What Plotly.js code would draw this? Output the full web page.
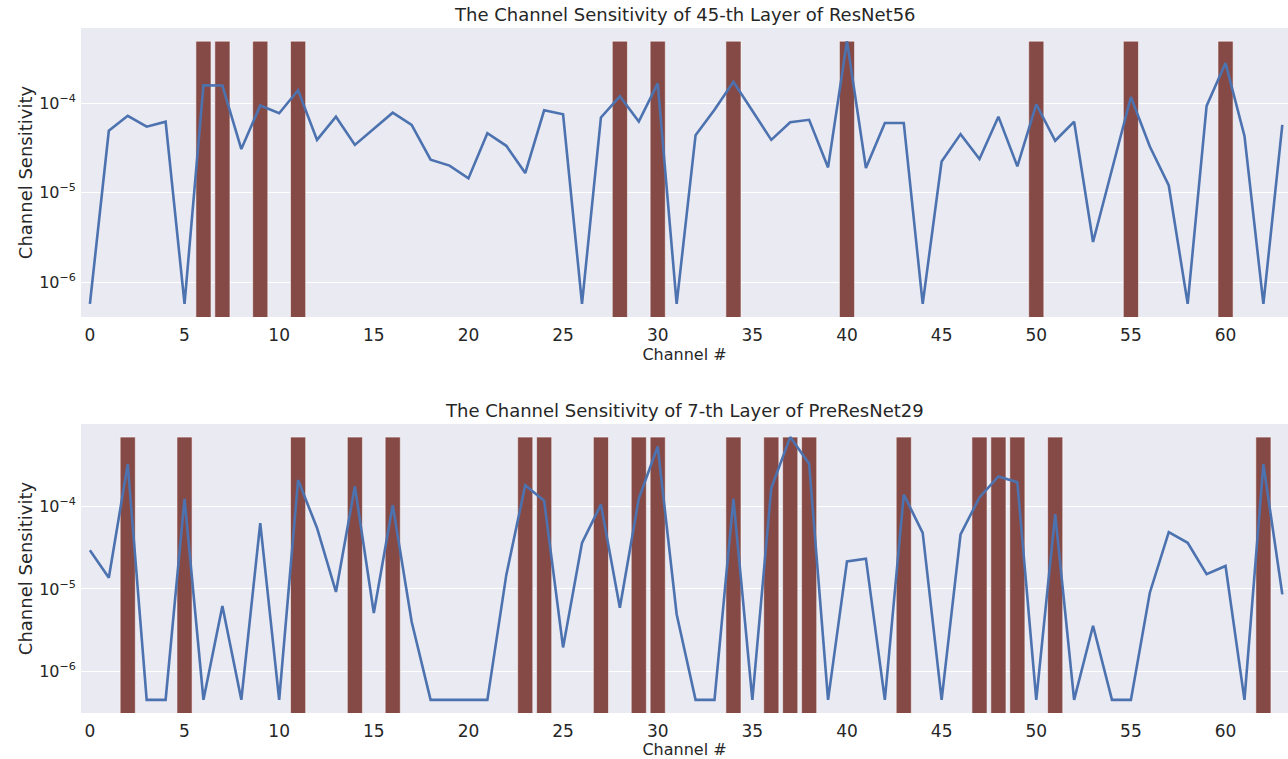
<!DOCTYPE html>
<html>
<head>
<meta charset="utf-8">
<script src="https://cdn.plot.ly/plotly-3.0.1.min.js"></script>
<style>
html,body{margin:0;padding:0;background:#fff;}
#chart{width:1288px;height:759px;}
</style>
</head>
<body>
<div id="chart"></div>
<script>
// Channel indices
const channels = Array.from({length: 64}, (_, i) => i);

// Sensitivity per channel, 45-th layer of ResNet56
const sensResNet56 = [
  5.7e-7, 4.9e-5, 7.2e-5, 5.45e-5, 6.2e-5, 5.7e-7, 1.58e-4, 1.57e-4, 3.06e-5, 9.4e-5,
  7.7e-5, 1.39e-4, 3.88e-5, 7.05e-5, 3.41e-5, 5.1e-5, 7.8e-5, 5.7e-5, 2.33e-5, 2.0e-5,
  1.44e-5, 4.6e-5, 3.33e-5, 1.65e-5, 8.3e-5, 7.5e-5, 5.7e-7, 6.9e-5, 1.19e-4, 6.2e-5,
  1.66e-4, 5.7e-7, 4.38e-5, 8.4e-5, 1.73e-4, 8.2e-5, 3.88e-5, 6.1e-5, 6.5e-5, 1.91e-5,
  4.92e-4, 1.88e-5, 6.0e-5, 6.0e-5, 5.7e-7, 2.23e-5, 4.5e-5, 2.37e-5, 7.05e-5, 1.96e-5,
  9.7e-5, 3.79e-5, 6.2e-5, 2.8e-6, 1.82e-5, 1.17e-4, 3.27e-5, 1.2e-5, 5.7e-7, 9.3e-5,
  2.8e-4, 4.3e-5, 5.7e-7, 5.7e-5
];
// Highlighted channels, ResNet56
const selResNet56 = [6, 7, 9, 11, 28, 30, 34, 40, 50, 55, 60];

// Sensitivity per channel, 7-th layer of PreResNet29
const sensPreResNet29 = [
  2.94e-5, 1.37e-5, 3.27e-4, 4.5e-7, 4.5e-7, 1.24e-4, 4.5e-7, 6.2e-6, 4.5e-7, 6.3e-5,
  4.5e-7, 2.1e-4, 5.5e-5, 9.2e-6, 1.76e-4, 5.1e-6, 1.04e-4, 4.0e-6, 4.5e-7, 4.5e-7,
  4.5e-7, 4.5e-7, 1.48e-5, 1.81e-4, 1.18e-4, 1.95e-6, 3.63e-5, 1.06e-4, 5.9e-6, 1.25e-4,
  5.36e-4, 4.94e-6, 4.5e-7, 4.5e-7, 1.24e-4, 4.5e-7, 1.68e-4, 6.97e-4, 3.31e-4, 4.5e-7,
  2.16e-5, 2.33e-5, 4.5e-7, 1.4e-4, 4.8e-5, 4.5e-7, 4.6e-5, 1.29e-4, 2.32e-4, 1.98e-4,
  4.5e-7, 8.1e-5, 4.5e-7, 3.57e-6, 4.5e-7, 4.5e-7, 9.0e-6, 4.9e-5, 3.63e-5, 1.51e-5,
  1.9e-5, 4.5e-7, 3.27e-4, 8.6e-6
];
// Highlighted channels, PreResNet29
const selPreResNet29 = [2, 5, 11, 14, 16, 23, 24, 27, 29, 30, 34, 36, 37, 38, 43, 47, 48, 49, 51, 62];

const titles = [
  "The Channel Sensitivity of 45-th Layer of ResNet56",
  "The Channel Sensitivity of 7-th Layer of PreResNet29"
];
const xTickVals = [0, 5, 10, 15, 20, 25, 30, 35, 40, 45, 50, 55, 60];
const yTickVals = [1e-6, 1e-5, 1e-4];
const yTickText = ["10<sup>−6</sup>", "10<sup>−5</sup>", "10<sup>−4</sup>"];

const lineColor = "#4C72B0";
const barColor = "#864A46";
const font = "DejaVu Sans, sans-serif";
const txt = "#262626";

function logRange(vals){
  const lo = Math.log10(Math.min(...vals)), hi = Math.log10(Math.max(...vals));
  const m = (hi - lo) * 0.05;
  return [lo - m, hi + m];
}

function panel(vals, sel, xa, ya){
  const h = Math.max(...vals);
  return [
    {type: "bar", x: sel, y: sel.map(() => h), base: sel.map(() => 1e-9), width: 0.8,
     marker: {color: barColor, line: {color: "rgba(255,255,255,0.55)", width: 1}},
     xaxis: xa, yaxis: ya, hoverinfo: "skip", showlegend: false},
    {type: "scatter", mode: "lines", x: channels, y: vals,
     line: {color: lineColor, width: 2.6}, xaxis: xa, yaxis: ya, showlegend: false}
  ];
}

const data = [
  ...panel(sensResNet56, selResNet56, "x", "y"),
  ...panel(sensPreResNet29, selPreResNet29, "x2", "y2")
];

function xax(anchor){
  return {
    anchor: anchor, domain: [0, 1], range: [-0.47, 63.3],
    tickvals: xTickVals, ticks: "", showgrid: false, zeroline: false, showline: false,
    ticklabelstandoff: 6,
    tickfont: {family: font, size: 17, color: txt},
    title: {text: "Channel #", font: {family: font, size: 16, color: txt}, standoff: 3}
  };
}
function yax(anchor, dom, vals){
  return {
    anchor: anchor, domain: dom, type: "log", range: logRange(vals),
    tickvals: yTickVals, ticktext: yTickText, ticks: "",
    ticklabelstandoff: 4,
    showgrid: true, gridcolor: "#FFFFFF", gridwidth: 1, zeroline: false, showline: false,
    tickfont: {family: font, size: 16, color: txt},
    title: {text: "Channel Sensitivity", font: {family: font, size: 18, color: txt}, standoff: 1}
  };
}

const layout = {
  width: 1288, height: 759,
  margin: {l: 81, r: 0, t: 0, b: 0},
  paper_bgcolor: "#FFFFFF", plot_bgcolor: "#EAEAF2",
  font: {family: font, color: txt},
  bargap: 0,
  xaxis: xax("y"),
  yaxis: yax("x", [0.5823, 0.9631], sensResNet56),
  xaxis2: xax("y2"),
  yaxis2: yax("x2", [0.0606, 0.4414], sensPreResNet29),
  annotations: [
    {text: titles[0], xref: "paper", yref: "paper", x: 0.5, y: 0.9631, yanchor: "bottom",
     yshift: 1, showarrow: false, font: {family: font, size: 18, color: txt}},
    {text: titles[1], xref: "paper", yref: "paper", x: 0.5, y: 0.4414, yanchor: "bottom",
     yshift: 1, showarrow: false, font: {family: font, size: 18, color: txt}}
  ]
};

Plotly.newPlot("chart", data, layout, {staticPlot: true, displayModeBar: false});
</script>
</body>
</html>
